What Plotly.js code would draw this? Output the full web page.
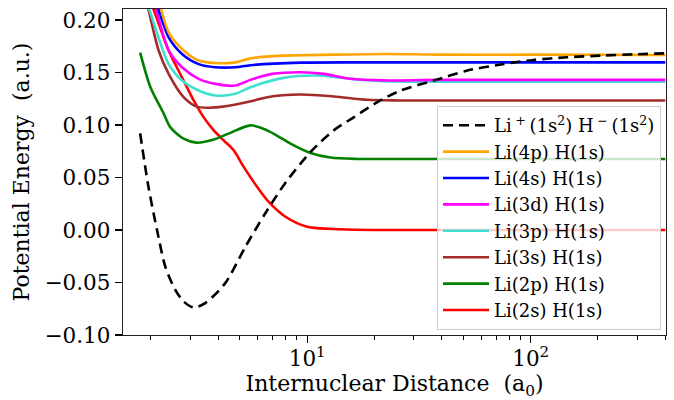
<!DOCTYPE html>
<html>
<head>
<meta charset="utf-8">
<script src="https://cdn.plot.ly/plotly-3.0.1.min.js"></script>
<style>html,body{margin:0;padding:0;background:#fff;}#chart{width:674px;height:400px;}</style>
</head>
<body>
<div id="chart"></div>
<script>
// Internuclear distance (a0) and potential energy (a.u.)
const ionicR = [1.79, 1.95, 2.13, 2.32, 2.57, 2.80, 3.10, 3.50, 4.30, 5.29, 6.50, 8.00, 10.35, 13.15, 16.2, 20.6, 26.2, 36.9, 52.1, 73.4, 103, 146, 206, 289, 400];
const ionicE = [0.092, 0.041, 0.000, -0.035, -0.057, -0.068, -0.0737, -0.0696, -0.0506, -0.016, 0.016, 0.045, 0.0743, 0.0949, 0.1075, 0.1218, 0.1329, 0.1424, 0.1519, 0.1576, 0.162, 0.1645, 0.1661, 0.1673, 0.1683];

const li4pR = [2.136, 2.226, 2.40, 2.755, 3.27, 3.885, 4.77, 5.57, 7.855, 13.15, 22.03, 39.5, 100, 400];
const li4pE = [0.221, 0.2095, 0.1882, 0.1724, 0.1614, 0.159, 0.1597, 0.1635, 0.1661, 0.167, 0.1677, 0.167, 0.167, 0.1667];

const li4sR = [2.071, 2.165, 2.40, 2.755, 3.27, 3.885, 4.77, 5.57, 9.33, 20, 400];
const li4sE = [0.221, 0.2095, 0.1835, 0.1677, 0.158, 0.155, 0.155, 0.157, 0.1594, 0.1597, 0.1597];

const li3dR = [2.028, 2.115, 2.40, 2.755, 3.27, 3.885, 4.77, 5.57, 6.97, 9.33, 11.87, 15.63, 22.03, 39.5, 400];
const li3dE = [0.222, 0.2095, 0.171, 0.155, 0.144, 0.1392, 0.1376, 0.143, 0.1487, 0.1503, 0.1487, 0.144, 0.1425, 0.143, 0.143];

const li3pR = [1.886, 1.972, 2.40, 2.755, 3.27, 3.885, 4.77, 5.57, 7.855, 11.09, 15.63, 22.03, 39.5, 400];
const li3pE = [0.221, 0.2095, 0.158, 0.1424, 0.1329, 0.1281, 0.1297, 0.136, 0.1449, 0.1471, 0.144, 0.1417, 0.1412, 0.1412];

const li3sR = [1.87, 1.953, 2.165, 2.40, 2.80, 3.20, 3.65, 4.20, 5.80, 6.62, 9.33, 13.15, 18.56, 26.2, 400];
const li3sE = [0.226, 0.2095, 0.171, 0.1487, 0.1265, 0.1175, 0.1165, 0.1175, 0.1234, 0.1265, 0.129, 0.1272, 0.124, 0.1234, 0.1234];

const li2pR = [1.79, 1.99, 2.28, 2.44, 2.80, 3.20, 3.72, 4.45, 5.57, 6.62, 7.73, 8.42, 10.35, 12.7, 16.7, 25, 400];
const li2pE = [0.169, 0.136, 0.111, 0.098, 0.087, 0.0832, 0.0854, 0.0918, 0.0997, 0.0949, 0.087, 0.0823, 0.0734, 0.069, 0.0677, 0.0677, 0.0677];

const li2sR = [1.95, 2.06, 2.40, 2.80, 3.107, 3.44, 3.82, 4.23, 4.69, 5.20, 5.97, 6.62, 8.0, 10.0, 14.1, 20, 400];
const li2sE = [0.223, 0.2095, 0.171, 0.1424, 0.1234, 0.1075, 0.0949, 0.0854, 0.0759, 0.0601, 0.0411, 0.0285, 0.0126, 0.0031, 0.0007, 0.0, 0.0];

const seriesNames = ['Li\u2009<sup>+</sup>\u2009(1s<sup>2</sup>) H\u2009<sup>\u2212</sup>\u2009(1s<sup>2</sup>)', 'Li(4p) H(1s)', 'Li(4s) H(1s)', 'Li(3d) H(1s)', 'Li(3p) H(1s)', 'Li(3s) H(1s)', 'Li(2p) H(1s)', 'Li(2s) H(1s)'];

const yTicks = [-0.10, -0.05, 0.00, 0.05, 0.10, 0.15, 0.20];
const xTicks = [10, 100];
const xTickText = ['10<sup>1</sup>', '10<sup>2</sup>'];
const xMinorTicks = [2, 3, 4, 5, 6, 7, 8, 9, 20, 30, 40, 50, 60, 70, 80, 90, 200, 300, 400];

const font = 'DejaVu Serif, serif';
const lw = 2.6;
function tr(x, y, name, color, dash) {
  return {x: x, y: y, name: name, type: 'scatter', mode: 'lines',
    line: {color: color, width: lw, shape: 'spline', smoothing: 0.8, dash: dash || 'solid'}};
}
const data = [
  tr(li2sR, li2sE, seriesNames[7], '#FF0000'),
  tr(li2pR, li2pE, seriesNames[6], '#008000'),
  tr(li3sR, li3sE, seriesNames[5], '#A52A2A'),
  tr(li3pR, li3pE, seriesNames[4], '#40E0D0'),
  tr(li3dR, li3dE, seriesNames[3], '#FF00FF'),
  tr(li4sR, li4sE, seriesNames[2], '#0000FF'),
  tr(li4pR, li4pE, seriesNames[1], '#FFA500'),
  tr(ionicR, ionicE, seriesNames[0], '#000000', '10px,6px')
];

const layout = {
  width: 674, height: 400,
  margin: {l: 123, r: 8, t: 9, b: 65},
  paper_bgcolor: '#fff', plot_bgcolor: '#fff',
  font: {family: font, color: '#000', size: 21},
  showlegend: true,
  legend: {
    x: 0.9908, y: 0.0153, xanchor: 'right', yanchor: 'bottom',
    traceorder: 'reversed',
    bgcolor: 'rgba(255,255,255,0.8)', bordercolor: '#cccccc', borderwidth: 1,
    font: {family: font, size: 18, color: '#000'},
    itemwidth: 46
  },
  xaxis: {
    type: 'log', range: [Math.log10(1.5), Math.log10(403)],
    tickmode: 'array', tickvals: xTicks, ticktext: xTickText,
    ticks: 'outside', ticklen: 7, tickwidth: 1.2, tickcolor: '#000',
    ticklabelstandoff: -3,
    minor: {tickmode: 'array', tickvals: xMinorTicks, ticks: 'outside', ticklen: 4, tickwidth: 1, tickcolor: '#000', showgrid: false},
    showgrid: false, zeroline: false,
    showline: true, mirror: true, linecolor: '#222', linewidth: 1.3,
    tickfont: {family: font, size: 21.5},
    title: {text: 'Internuclear Distance\u00a0\u00a0(a<sub>0</sub>)', font: {family: font, size: 22}, standoff: 6}
  },
  yaxis: {
    range: [-0.10, 0.2105],
    tickmode: 'array', tickvals: yTicks, tickformat: '.2f',
    ticks: 'outside', ticklen: 7, tickwidth: 1.2, tickcolor: '#000',
    showgrid: false, zeroline: false,
    showline: true, mirror: true, linecolor: '#222', linewidth: 1.3,
    tickfont: {family: font, size: 21.5},
    title: {text: 'Potential Energy\u00a0\u00a0(a.u.)', font: {family: font, size: 22}, standoff: 8}
  }
};

Plotly.newPlot('chart', data, layout, {displayModeBar: false, staticPlot: true});
</script>
</body>
</html>
